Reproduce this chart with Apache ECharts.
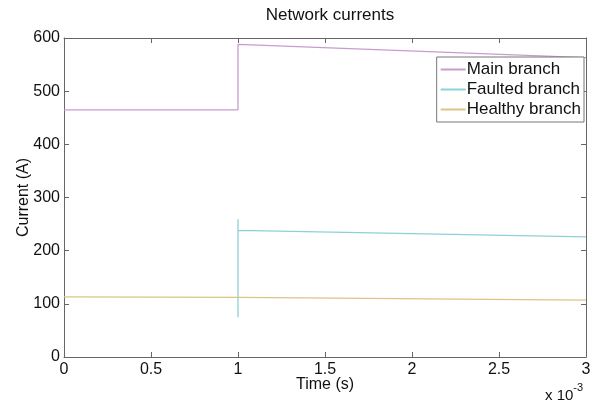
<!DOCTYPE html>
<html>
<head>
<meta charset="utf-8">
<title>Network currents</title>
<style>
    html, body { margin: 0; padding: 0; background: #fff; }
    #main { width: 599px; height: 405px; }
</style>
</head>
<body>
<div id="main"></div>
<script src="https://cdn.jsdelivr.net/npm/echarts@6/dist/echarts.min.js"></script>
<script type="text/javascript">
    // time in units of 1e-3 s
    var mainTime = [0, 1, 1, 3];
    var mainCurrent = [465, 465, 588, 563];
    var faultedTime = [1, 1, 1, 3];
    var faultedCurrent = [75, 259, 238, 226];
    var healthyTime = [0, 1, 3];
    var healthyCurrent = [113, 112, 107];
    var xTicks = [0, 0.5, 1, 1.5, 2, 2.5, 3];
    var yTicks = [0, 100, 200, 300, 400, 500, 600];

    function pairs(t, v) {
        var out = [];
        for (var i = 0; i < t.length; i++) out.push([t[i], v[i]]);
        return out;
    }

    var font = 'Liberation Sans, Arial, sans-serif';
    var myChart = echarts.init(document.getElementById('main'));

    var axisCommon = {
        axisLine: { show: true, onZero: false, lineStyle: { color: '#666', width: 1 } },
        axisTick: { show: true, inside: true, length: 5, lineStyle: { color: '#666' } },
        splitLine: { show: false }
    };

    var option = {
        animation: false,
        backgroundColor: '#fff',
        title: {
            text: 'Network currents',
            left: 325, top: 2, textAlign: 'center',
            textStyle: { fontFamily: font, fontSize: 17, fontWeight: 'normal', color: '#111' }
        },
        grid: { left: 64, right: 13, top: 38, bottom: 48 },
        legend: {
            orient: 'vertical',
            right: 15, top: 57,
            backgroundColor: '#fff',
            borderColor: '#777', borderWidth: 1,
            padding: [4, 3, 4, 4],
            itemGap: 3,
            itemWidth: 25, itemHeight: 2,
            icon: 'rect',
            textStyle: { fontFamily: font, fontSize: 17, lineHeight: 17, color: '#111', padding: [0, 0, 0, -4] },
            data: ['Main branch', 'Faulted branch', 'Healthy branch']
        },
        xAxis: [
            Object.assign({
                type: 'value', min: 0, max: 3, interval: 0.5,
                position: 'bottom',
                name: 'Time (s)', nameLocation: 'middle', nameGap: 20, nameMoveOverlap: false,
                nameTextStyle: { fontFamily: font, fontSize: 16, color: '#111' },
                axisLabel: { fontFamily: font, fontSize: 16, color: '#111', margin: 5,
                    formatter: function (v) { return String(v); } }
            }, axisCommon),
            Object.assign({
                type: 'value', min: 0, max: 3, interval: 0.5,
                position: 'top', axisLabel: { show: false }
            }, axisCommon)
        ],
        yAxis: [
            Object.assign({
                type: 'value', min: 0, max: 600, interval: 100,
                position: 'left',
                name: 'Current (A)', nameLocation: 'middle', nameGap: 32, nameRotate: 90, nameMoveOverlap: false,
                nameTextStyle: { fontFamily: font, fontSize: 16, color: '#111' },
                axisLabel: { fontFamily: font, fontSize: 16, color: '#111', margin: 4 }
            }, axisCommon),
            Object.assign({
                type: 'value', min: 0, max: 600, interval: 100,
                position: 'right', axisLabel: { show: false }
            }, axisCommon)
        ],
        graphic: [{
            type: 'text',
            left: 545, top: 382,
            style: {
                text: '{a|x 10}{s|-3}',
                rich: {
                    a: { fontFamily: font, fontSize: 15, fill: '#111', verticalAlign: 'bottom' },
                    s: { fontFamily: font, fontSize: 11, fill: '#111', verticalAlign: 'top', padding: [0, 0, 10, 0] }
                }
            }
        }],
        series: [
            {
                name: 'Main branch', type: 'line', showSymbol: false,
                itemStyle: { color: '#c79ccd' },
                lineStyle: { color: '#c79ccd', width: 1.3 },
                data: pairs(mainTime, mainCurrent)
            },
            {
                name: 'Faulted branch', type: 'line', showSymbol: false,
                itemStyle: { color: '#8fd0d8' },
                lineStyle: { color: '#8fd0d8', width: 1.3 },
                data: pairs(faultedTime, faultedCurrent)
            },
            {
                name: 'Healthy branch', type: 'line', showSymbol: false,
                itemStyle: { color: '#dcc487' },
                lineStyle: { color: '#dcc487', width: 1.3 },
                data: pairs(healthyTime, healthyCurrent)
            }
        ]
    };

    myChart.setOption(option);
</script>
</body>
</html>
